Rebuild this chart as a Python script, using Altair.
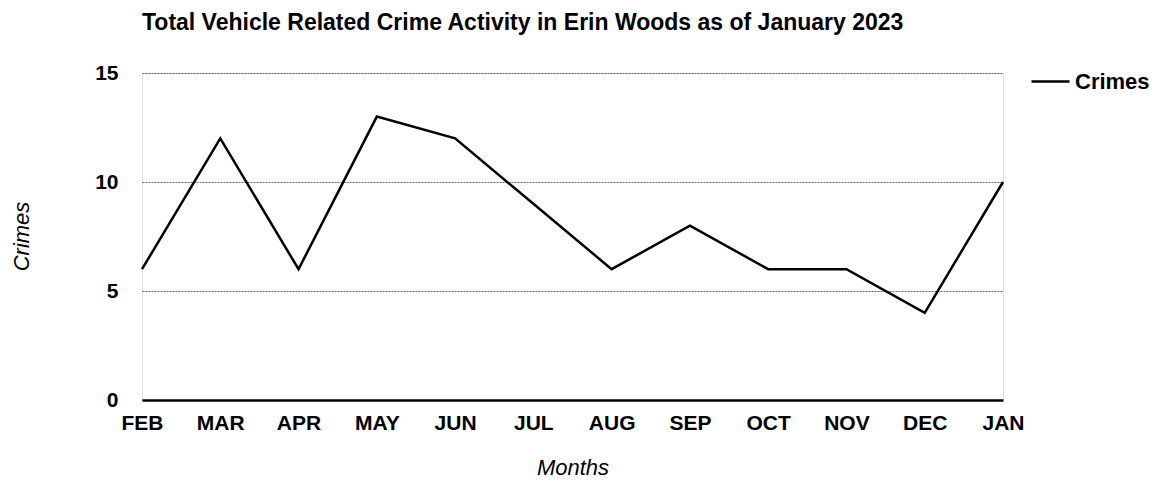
import altair as alt
import pandas as pd

months = ["FEB", "MAR", "APR", "MAY", "JUN", "JUL", "AUG", "SEP", "OCT", "NOV", "DEC", "JAN"]
crimes = [6, 12, 6, 13, 12, 9, 6, 8, 6, 6, 4, 10]
series = ["Crimes"] * len(months)

df = pd.DataFrame({"Month": months, "Crimes": crimes, "Series": series})

FONT = "Liberation Sans"

line = alt.Chart(df).mark_line(color="black", strokeWidth=2.5).encode(
    x=alt.X("Month:N", sort=months,
            scale=alt.Scale(type="point", padding=0),
            axis=alt.Axis(title="Months", labelAngle=0, ticks=False, labelPadding=12,
                          labelFontSize=21, labelFontWeight="bold", labelFont=FONT,
                          labelColor="black",
                          domain=True, domainColor="black", domainWidth=2.5,
                          grid=False,
                          titleFont=FONT, titleFontSize=22, titleFontStyle="italic",
                          titleFontWeight="normal", titleColor="black",
                          titleY=67, titleBaseline="middle")),
    y=alt.Y("Crimes:Q", scale=alt.Scale(domain=[0, 15], nice=False),
            axis=alt.Axis(title="Crimes", values=[0, 5, 10, 15], ticks=False, domain=False,
                          labelPadding=24, labelFontSize=21, labelFontWeight="bold",
                          labelFont=FONT, labelColor="black",
                          grid=True, gridColor="#666666", gridDash=[2, 1], gridWidth=1,
                          titleFont=FONT, titleFontSize=22, titleFontStyle="italic",
                          titleFontWeight="normal", titleColor="black",
                          titleX=-121, titleY=163, titleAngle=-90,
                          titleAlign="center", titleBaseline="middle")),
    stroke=alt.Stroke("Series:N", scale=alt.Scale(range=["black"]),
                      legend=alt.Legend(title=None, orient="none", legendX=888, legendY=-12,
                                        symbolType="stroke", symbolSize=1444,
                                        symbolStrokeWidth=2.5, labelFontSize=22,
                                        labelFontWeight="bold", labelFont=FONT,
                                        labelColor="black", padding=0)),
)

chart = line.properties(
    width=861,
    height=327,
    title=alt.TitleParams(
        "Total Vehicle Related Crime Activity in Erin Woods as of January 2023",
        anchor="start", frame="group", font=FONT, fontSize=23, fontWeight="bold",
        color="black", offset=26,
    ),
    padding={"left": 134, "top": 65, "right": 150, "bottom": 80},
    autosize=alt.AutoSizeParams(type="none"),
).configure_view(stroke=None).configure(background="white")

chart.save("out.html", embed_options={"renderer": "svg", "actions": False})
